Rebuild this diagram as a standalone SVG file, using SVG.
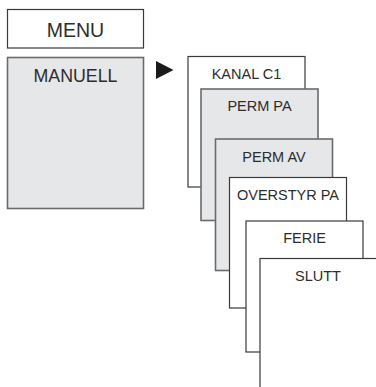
<svg xmlns="http://www.w3.org/2000/svg" width="376" height="387" viewBox="0 0 376 387">
<style>
.w{fill:#ffffff;stroke:#3a3a3a;stroke-width:1.2}
.g{fill:#e6e7e8;stroke:#6a6b6d;stroke-width:1.6}
text{font-family:"Liberation Sans",Arial,sans-serif;fill:#2d2d2d;text-anchor:middle}
.s{font-size:14.5px}
</style>
<rect width="376" height="387" fill="#ffffff"/>
<g id="menu"><rect class="w" x="7.5" y="9.5" width="136" height="38.5"/><text x="75.5" y="36.5" font-size="19.5">MENU</text></g>
<g id="manuell"><rect class="g" x="7.5" y="57.5" width="136" height="151"/><text x="75.5" y="82" font-size="17.8">MANUELL</text></g>
<g id="connectors"><polygon points="156,61 173.5,70 156,79" fill="#1a1a1a"/></g>
<g id="kanal"><rect class="w" x="188" y="56.5" width="117" height="130.5"/><text class="s" x="246.5" y="79">KANAL C1</text></g>
<g id="permpa"><rect class="g" x="201" y="89" width="117" height="131.5"/><text class="s" x="259.5" y="111">PERM PA</text></g>
<g id="permav"><rect class="g" x="215.5" y="139" width="117" height="131.5"/><text class="s" x="274" y="161.5">PERM AV</text></g>
<g id="overstyr"><rect class="w" x="229.5" y="177.5" width="117" height="130.5"/><text class="s" x="288" y="200">OVERSTYR PA</text></g>
<g id="ferie"><rect class="w" x="246" y="221" width="117" height="131"/><text class="s" x="304.5" y="243">FERIE</text></g>
<g id="slutt"><rect class="w" x="260" y="258.5" width="117" height="140"/><text class="s" x="318" y="281">SLUTT</text></g>
</svg>
